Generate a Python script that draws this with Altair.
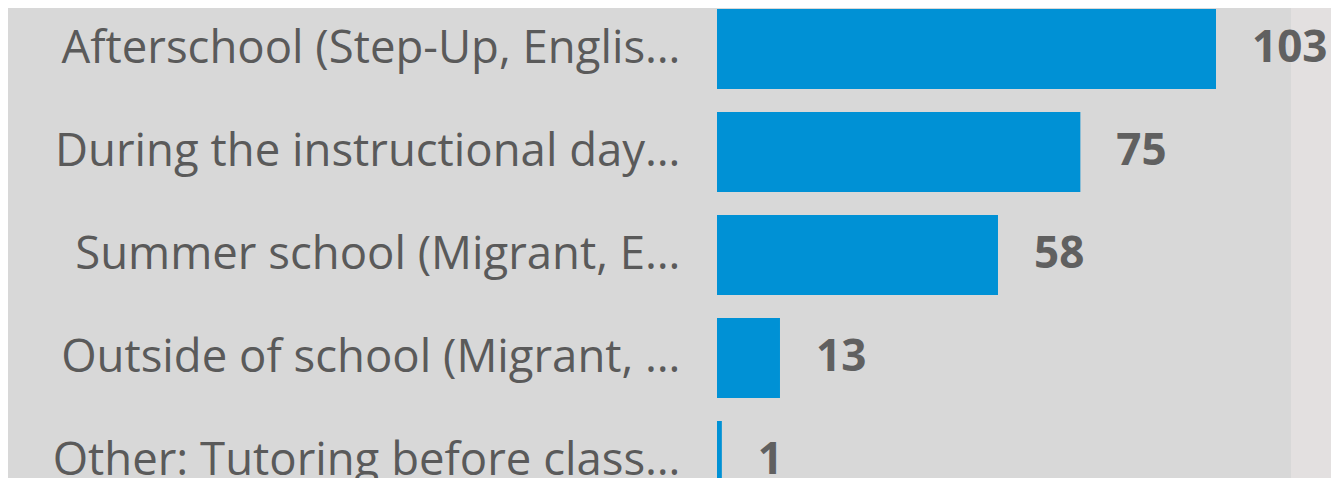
import altair as alt
import pandas as pd

categories = [
    "Afterschool (Step-Up, Englis…",
    "During the instructional day…",
    "Summer school (Migrant, E…",
    "Outside of school (Migrant, …",
    "Other: Tutoring before class…",
]
values = [103, 75, 58, 13, 1]

df = pd.DataFrame({"category": categories, "value": values})

FONT = "Open Sans"

y_scale = alt.Scale(range=[-10.5, 504.5], paddingInner=0.223, paddingOuter=0.1115)
x_enc = alt.X("value:Q", scale=alt.Scale(domain=[0, 103], nice=False, zero=True), axis=None)

bars = alt.Chart(df).mark_bar(color="#0091d5").encode(
    x=x_enc,
    y=alt.Y(
        "category:N",
        sort=categories,
        title=None,
        scale=y_scale,
        axis=alt.Axis(
            labelFont=FONT,
            labelFontSize=45.5,
            labelColor="#5a5a5a",
            labelPadding=37,
            ticks=False,
            domain=False,
            grid=False,
            labelLimit=900,
            labelAlign="right",
            labelBaseline="middle",
        ),
    ),
)

text = alt.Chart(df).mark_text(
    align="left", baseline="middle", dx=36, font=FONT, fontSize=44,
    fontWeight="bold", color="#606060",
).encode(
    x=x_enc,
    y=alt.Y("category:N", sort=categories, scale=y_scale),
    text="value:Q",
)

# lighter strip at the right edge (background decoration)
deco = alt.Chart(pd.DataFrame({"a": [0]})).mark_rect(color="#e3e0e0").encode(
    x=alt.value(574), x2=alt.value(700), y=alt.value(-20), y2=alt.value(500)
)

chart = alt.layer(deco, bars, text).properties(
    width=499,
    height=470,
    padding={"left": 709, "top": 0, "right": 115, "bottom": 0},
    autosize=alt.AutoSizeParams(type="none"),
    background="#d8d8d8",
).configure_view(stroke=None)

chart.save("out.html", embed_options={"renderer": "svg", "actions": False})
